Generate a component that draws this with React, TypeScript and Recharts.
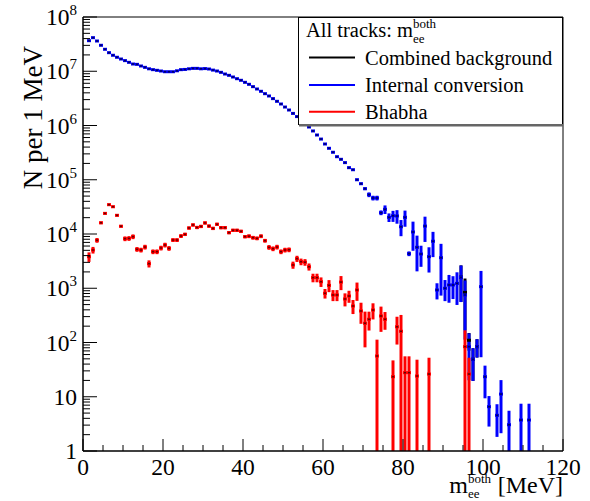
import React from "react";
import { ScatterChart, Scatter, XAxis, YAxis, ErrorBar, ReferenceLine } from "recharts";

const FONT = "'Liberation Serif', 'Times New Roman', serif";

// 1 MeV bins, centres 1.5 ... 111.5
const binCentres = Array.from({ length: 111 }, (_, i) => 1.5 + i);

// Internal conversion (blue), entries per bin
const internalConv = [
  3.66e7, 4.16e7, 3.61e7, 3.01e7, 2.54e7, 2.2e7, 1.97e7, 1.81e7, 1.68e7, 1.57e7,
  1.46e7, 1.36e7, 1.34e7, 1.25e7, 1.18e7, 1.11e7, 1.07e7, 1.04e7, 1.01e7, 9.8e6,
  9.8e6, 9.8e6, 1.02e7, 1.07e7, 1.08e7, 1.11e7, 1.13e7, 1.13e7, 1.11e7, 1.12e7,
  1.1e7, 1.05e7, 1.01e7, 9.55e6, 8.89e6, 8.41e6, 7.83e6, 7.29e6, 6.81e6, 6.25e6,
  5.74e6, 5.2e6, 4.71e6, 4.27e6, 3.86e6, 3.5e6, 3.13e6, 2.79e6, 2.49e6, 2.19e6,
  1.93e6, 1.67e6, 1.46e6, 1.26e6, 1.1e6, 9.38e5, 7.93e5, 6.68e5, 5.62e5, 4.56e5,
  3.8e5, 3.21e5, 2.66e5, 2.38e5, 2.07e5, 1.67e5, 1.53e5, 1.0e5, 8.45e4, 6.84e4,
  5.31e4, 4.61e4, 4.61e4, 2.47e4, 2.85e4, 2.03e4, 2.17e4, 2.15e4, 1.36e4, 2.03e4,
  4.34e3, 1.09e4, 5.69e3, 4.28e3, 1.4e4, 3.82e3, 7.35e3, 929, 3.66e3, 998,
  1.15e3, 1.15e3, 1.23e3, 1.59e3, 752, 83.8, 49, 83.8, 1.07e3, 23.4,
  6.56, null, 4.55, 11.2, null, 3.05, null, null, 3.72, null, 3.72,
];
// relative uncertainty per bin
const internalConvErr = [
  0.01, 0.01, 0.01, 0.01, 0.01, 0.01, 0.01, 0.01, 0.01, 0.01,
  0.01, 0.01, 0.01, 0.01, 0.01, 0.01, 0.01, 0.01, 0.01, 0.01,
  0.01, 0.01, 0.01, 0.01, 0.01, 0.01, 0.01, 0.01, 0.01, 0.01,
  0.01, 0.01, 0.01, 0.01, 0.01, 0.01, 0.01, 0.01, 0.01, 0.01,
  0.01, 0.01, 0.01, 0.01, 0.01, 0.01, 0.01, 0.01, 0.01, 0.01,
  0.01, 0.01, 0.01, 0.01, 0.01, 0.01, 0.01, 0.01, 0.01, 0.01,
  0.02, 0.02, 0.03, 0.03, 0.03, 0.04, 0.04, 0.05, 0.05, 0.06,
  0.1, 0.1, 0.1, 0.1, 0.18, 0.18, 0.23, 0.28, 0.33, 0.33,
  0.1, 0.55, 0.64, 0.42, 0.49, 0.49, 0.49, 0.33, 0.8, 0.42,
  0.53, 0.45, 0.6, 0.65, 0.85, 0.76, 0.6, 0.37, 0.95, 0.6,
  0.57, 0, 0.6, 0.81, 0, 0.81, 0, 0, 1, 0, 1,
];

// Bhabha (red)
const bhabha = [
  3.82e3, 5.07e3, 7.66e3, 1.61e4, 2.4e4, 3.47e4, 3.18e4, 2.21e4, 1.39e4, 8.2e3,
  8.3e3, 8.93e3, 5.22e3, 5.07e3, 5.75e3, 2.84e3, 4.72e3, 4.72e3, 5.52e3, 6.27e3,
  5.44e3, 7.74e3, 7.74e3, 9.18e3, 9.86e3, 1.29e4, 1.47e4, 1.32e4, 1.38e4, 1.6e4,
  1.4e4, 1.27e4, 1.51e4, 1.31e4, 1.31e4, 1.06e4, 1.17e4, 1.17e4, 1.12e4, 8.93e3,
  9.12e3, 8.55e3, 8.32e3, 9.12e3, 7.53e3, 5.68e3, 5.36e3, 5.75e3, 4.72e3, 5.07e3,
  5.13e3, 2.69e3, 3.51e3, 3.09e3, 3.02e3, 2.49e3, 1.57e3, 1.57e3, 1.32e3, 807,
  1.13e3, 752, 752, 1.3e3, 634, 719, 471, 929, 381, 226,
  268, 397, 56.4, 308, 268, null, 23.4, 195, 161, 27.8,
  27.8, null, 24.1, null, null, 26.2, null, null, null, null,
  null, null, null, null, 83.8, 26.2,
];
const bhabhaErr = [
  0.2, 0.14, 0.1, 0.06, 0.05, 0.05, 0.05, 0.05, 0.06, 0.1,
  0.1, 0.1, 0.1, 0.1, 0.1, 0.15, 0.1, 0.1, 0.1, 0.1,
  0.1, 0.08, 0.08, 0.08, 0.07, 0.07, 0.07, 0.07, 0.07, 0.07,
  0.07, 0.07, 0.07, 0.07, 0.07, 0.07, 0.07, 0.07, 0.07, 0.07,
  0.08, 0.08, 0.08, 0.08, 0.08, 0.1, 0.1, 0.1, 0.1, 0.1,
  0.1, 0.15, 0.13, 0.14, 0.14, 0.15, 0.18, 0.18, 0.2, 0.2,
  0.25, 0.23, 0.23, 0.29, 0.27, 0.25, 0.29, 0.37, 0.42, 0.64,
  0.38, 0.33, 1, 0.49, 0.36, 0, 1, 0.53, 1, 1,
  1, 0, 1, 0, 0, 1, 0, 0, 0, 0,
  0, 0, 0, 0, 1, 1,
];

// Combined background (black), only shows where it sticks out of the blue
const combinedBins = [94.5, 95.5, 96.5, 97.5, 98.5];
const combined = [1.6e3, 840, 110, 49, 84];
const combinedErr = [0.65, 0.8, 0.36, 0.6, 0.37];

const xTicks = [0, 5, 10, 15, 20, 25, 30, 35, 40, 45, 50, 55, 60, 65, 70, 75, 80, 85, 90, 95, 100, 105, 110, 115, 120];
const decades = [0, 1, 2, 3, 4, 5, 6, 7];
const minorSteps = [2, 3, 4, 5, 6, 7, 8, 9];
const yTicks = [
  ...decades.map((d) => Math.pow(10, d)),
  1e8,
  ...decades.flatMap((d) => minorSteps.map((m) => m * Math.pow(10, d))),
];

const toPoints = (xs: number[], vals: (number | null)[], rels: number[]) =>
  xs
    .map((x, i) => {
      const v = vals[i];
      if (v == null) return null;
      const e = rels[i] * v;
      return { x, y: v, err: [Math.min(e, v - 1), e] };
    })
    .filter(Boolean) as { x: number; y: number; err: number[] }[];

const blueData = toPoints(binCentres, internalConv, internalConvErr);
const redData = toPoints(binCentres, bhabha, bhabhaErr);
const blackData = toPoints(combinedBins, combined, combinedErr);

const marker = (color: string, core: string) => (props: any) => {
  const { cx, cy } = props;
  if (cx == null || cy == null || isNaN(cy)) return <g />;
  return (
    <g>
      <rect x={cx - 2} y={cy - 1.5} width={4} height={3} fill={color} />
      <rect x={cx - 0.8} y={cy - 0.8} width={1.6} height={1.6} fill={core} />
    </g>
  );
};

function YTick(props: any) {
  const { x, y, payload } = props;
  const lg = Math.log10(payload.value);
  const exp = Math.round(lg);
  const major = Math.abs(lg - exp) < 1e-6;
  return (
    <g>
      <line x1={x} y1={y} x2={x + (major ? 14 : 7)} y2={y} stroke="#000" strokeWidth={1} />
      {major && (
        <text x={x - 6} y={y + 8} textAnchor="end" fontFamily={FONT} fontSize={23.5} fill="#000">
          {exp === 0 ? "1" : exp === 1 ? "10" : (
            <>
              10<tspan dy={-10} fontSize={15}>{exp}</tspan>
            </>
          )}
        </text>
      )}
    </g>
  );
}

function XTick(props: any) {
  const { x, y, payload } = props;
  const major = payload.value % 20 === 0;
  return (
    <g>
      <line x1={x} y1={y} x2={x} y2={y - (major ? 12 : 6)} stroke="#000" strokeWidth={1} />
      {major && (
        <text x={x} y={y + 24} textAnchor="middle" fontFamily={FONT} fontSize={23.5} fill="#000">
          {payload.value}
        </text>
      )}
    </g>
  );
}

function Overlay() {
  return (
    <svg width={590} height={501} style={{ position: "absolute", left: 0, top: 0, pointerEvents: "none" }}>
      <text transform="translate(42,46) rotate(-90)" textAnchor="end" fontFamily={FONT} fontSize={27} fill="#000">
        N per 1 MeV
      </text>
      <text x={468} y={493} textAnchor="end" fontFamily={FONT} fontSize={24} fill="#000">m</text>
      <text x={468} y={483} fontFamily={FONT} fontSize={13} fill="#000">both</text>
      <text x={468} y={498} fontFamily={FONT} fontSize={13} fill="#000">ee</text>
      <text x={563} y={493} textAnchor="end" fontFamily={FONT} fontSize={24} fill="#000">[MeV]</text>

      <rect x={298.5} y={17.5} width={264} height={107} fill="#fff" stroke="#000" strokeWidth={1} />
      <line x1={299} y1={125.3} x2={563} y2={125.3} stroke="#666" strokeWidth={2.5} />
      <text x={306} y={37} fontFamily={FONT} fontSize={20.5} fill="#000">All tracks: m</text>
      <text x={413} y={28} fontFamily={FONT} fontSize={13} fill="#000">both</text>
      <text x={413} y={43} fontFamily={FONT} fontSize={13} fill="#000">ee</text>
      <line x1={309} y1={57.5} x2={355} y2={57.5} stroke="#000" strokeWidth={2} />
      <text x={365} y={64.5} fontFamily={FONT} fontSize={20.5} fill="#000">Combined background</text>
      <line x1={309} y1={85} x2={355} y2={85} stroke="#0000ff" strokeWidth={2} />
      <text x={365} y={92} fontFamily={FONT} fontSize={20.5} fill="#000">Internal conversion</text>
      <line x1={309} y1={111.7} x2={355} y2={111.7} stroke="#ff0000" strokeWidth={2} />
      <text x={365} y={118.5} fontFamily={FONT} fontSize={20.5} fill="#000">Bhabha</text>
    </svg>
  );
}

export default function App() {
  return (
    <div style={{ position: "absolute", left: 0, top: 0, width: 590, height: 501, background: "#fff" }}>
      <ScatterChart width={590} height={501} margin={{ top: 17, right: 27, bottom: 0, left: 0 }}>
        <XAxis
          type="number"
          dataKey="x"
          domain={[0, 120]}
          ticks={xTicks}
          interval={0}
          allowDataOverflow
          height={50}
          tickSize={0}
          tickMargin={0}
          tickLine={false}
          axisLine={{ stroke: "#000", strokeWidth: 1.5 }}
          tick={<XTick />}
        />
        <YAxis
          type="number"
          dataKey="y"
          scale="log"
          domain={[1, 1e8]}
          ticks={yTicks}
          interval={0}
          allowDataOverflow
          width={83}
          tickSize={0}
          tickMargin={0}
          tickLine={false}
          axisLine={{ stroke: "#000", strokeWidth: 1.5 }}
          tick={<YTick />}
        />
        <ReferenceLine y={1e8} stroke="#000" strokeWidth={1} />
        <ReferenceLine x={120} stroke="#000" strokeWidth={1} />
        <Scatter data={blackData} dataKey="y" isAnimationActive={false} shape={marker("#000", "#000")}>
          <ErrorBar dataKey="err" direction="y" width={0} stroke="#000" strokeWidth={3} />
        </Scatter>
        <Scatter data={blueData} dataKey="y" isAnimationActive={false} shape={marker("#0000ee", "#000040")}>
          <ErrorBar dataKey="err" direction="y" width={0} stroke="#0000ff" strokeWidth={3} />
        </Scatter>
        <Scatter data={redData} dataKey="y" isAnimationActive={false} shape={marker("#ff0000", "#400000")}>
          <ErrorBar dataKey="err" direction="y" width={0} stroke="#ff0000" strokeWidth={3} />
        </Scatter>
      </ScatterChart>
      <Overlay />
    </div>
  );
}
